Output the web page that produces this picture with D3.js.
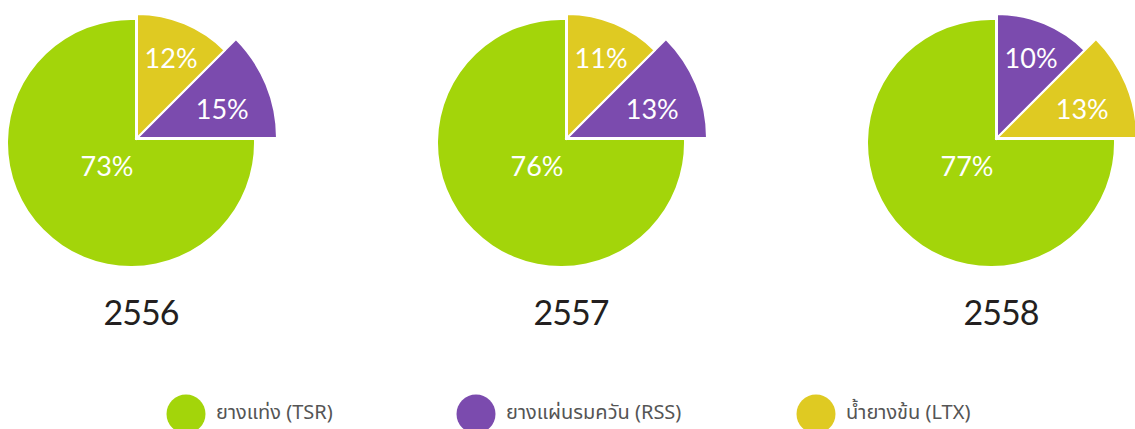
<!DOCTYPE html>
<html>
<head>
<meta charset="utf-8">
<script src="https://cdn.jsdelivr.net/npm/d3@7"></script>
<style>
  body { margin: 0; background: #fff; }
</style>
</head>
<body>
<div id="chart"></div>
<script>
const years = ["2556", "2557", "2558"];
const tsr = [73, 76, 77];
const rss = [15, 13, 10];
const ltx = [12, 11, 13];
const categories = ["ยางแท่ง (TSR)", "ยางแผ่นรมควัน (RSS)", "น้ำยางข้น (LTX)"];

const colors = { tsr: "#a3d50a", rss: "#7b4bae", ltx: "#dfca22" };
const legendX = [186, 476, 816];

const width = 1135, height = 429;

const svg = d3.select("#chart")
    .append("svg")
    .attr("width", width)
    .attr("height", height);

// pie centers (corner of the notch)
const x = d3.scalePoint().domain(years).range([135, 995]);
const cy = 140;
const bigR = 123;

years.forEach((year, i) => {
    const cx = x(year);
    const g = svg.append("g");

    // big slice: circle shifted down-left with the top-right quarter cut out
    const gx = cx - 4, gy = cy + 3;
    const a0 = Math.atan2(cy - gy, Math.sqrt(bigR * bigR - (cy - gy) ** 2));
    const a1 = Math.atan2(-Math.sqrt(bigR * bigR - (cx - gx) ** 2), cx - gx);
    const p = d3.path();
    p.moveTo(cx, cy);
    p.lineTo(gx + bigR * Math.cos(a0), gy + bigR * Math.sin(a0));
    p.arc(gx, gy, bigR, a0, a1, false);
    p.closePath();
    g.append("path")
        .attr("d", p.toString())
        .attr("fill", colors.tsr);

    const lr = 34, la = Math.PI * 3 / 4;
    g.append("text")
        .attr("x", gx + lr * Math.cos(la))
        .attr("y", gy + lr * Math.sin(la))
        .attr("dy", "0.35em")
        .attr("text-anchor", "middle")
        .attr("fill", "#fff")
        .style("font-family", "Lato, sans-serif")
        .style("font-size", "27px")
        .text(tsr[i] + "%");

    // two small slices share the first quarter, smaller value first
    const small = [
        { key: "rss", value: rss[i] },
        { key: "ltx", value: ltx[i] }
    ];
    const r = d3.scaleLinear()
        .domain(d3.extent(small, d => d.value))
        .range([124, 140]);
    const pie = d3.pie()
        .value(() => 1)
        .sort((a, b) => a.value - b.value)
        .startAngle(0)
        .endAngle(Math.PI / 2);
    const arc = d3.arc().innerRadius(0).outerRadius(d => r(d.data.value));

    const sg = g.append("g").attr("transform", `translate(${cx + 2},${cy - 2})`);
    const arcs = pie(small);
    sg.selectAll("path")
        .data(arcs)
        .join("path")
        .attr("d", arc)
        .attr("fill", d => colors[d.data.key])
        .attr("stroke", "#fff")
        .attr("stroke-width", 2);

    // label sits a bit below the mid line, more so on the lower slice
    sg.selectAll("text")
        .data(arcs)
        .join("text")
        .attr("x", d => 89 * Math.sin((d.startAngle + d.endAngle) / 2) + d.index * 3)
        .attr("y", d => -89 * Math.cos((d.startAngle + d.endAngle) / 2) + 3 + d.index * 3)
        .attr("dy", "0.35em")
        .attr("text-anchor", "middle")
        .attr("fill", "#fff")
        .style("font-family", "Lato, sans-serif")
        .style("font-size", "27px")
        .text(d => d.data.value + "%");

    // year label
    svg.append("text")
        .attr("x", cx + 6)
        .attr("y", 313)
        .attr("dy", "0.35em")
        .attr("text-anchor", "middle")
        .attr("fill", "#231f20")
        .style("font-family", "Lato, sans-serif")
        .style("font-size", "34px")
        .style("letter-spacing", "-1px")
        .text(year);
});

// legend
const legendColors = [colors.tsr, colors.rss, colors.ltx];
const legend = svg.selectAll(".legend")
    .data(categories)
    .join("g")
    .attr("class", "legend")
    .attr("transform", (d, i) => `translate(${legendX[i]},414)`);

legend.append("circle")
    .attr("r", 19.5)
    .attr("fill", (d, i) => legendColors[i]);

legend.append("text")
    .attr("x", 30)
    .attr("y", -2)
    .attr("dy", "0.35em")
    .attr("fill", "#555")
    .style("font-family", "'Noto Sans Thai', 'Noto Sans', sans-serif")
    .style("font-size", "20px")
    .text(d => d);
</script>
</body>
</html>
